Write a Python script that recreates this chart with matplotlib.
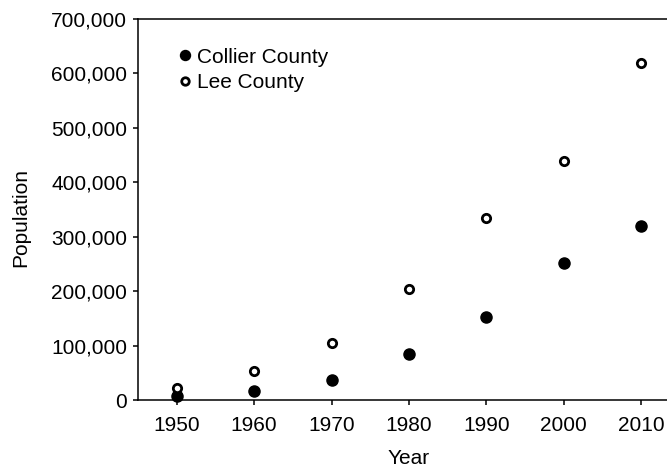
import matplotlib

matplotlib.use("Agg")
import matplotlib.pyplot as plt
from matplotlib.ticker import StrMethodFormatter

plt.rcParams["font.family"] = ["Liberation Sans", "DejaVu Sans"]

years = [1950, 1960, 1970, 1980, 1990, 2000, 2010]
collier = [6500, 15800, 37000, 85000, 152000, 251000, 320500]
lee = [23000, 54000, 105000, 204000, 334000, 440000, 618700]

FS = 15

fig = plt.figure(figsize=(6.67, 4.72), dpi=100)
# the axes run past the right edge of the figure, as in the original crop
ax = fig.add_axes([0.2069, 0.1525, 0.8126, 0.8072])

ax.plot(years, collier, ls="none", marker="o", ms=8, color="black",
        label="Collier County", clip_on=False, zorder=3)
ax.plot(years, lee, ls="none", marker="o", ms=6, mfc="white", mec="black",
        mew=2.0, label="Lee County", clip_on=False, zorder=3)

ax.set_xlim(1945, 2015)
ax.set_ylim(0, 700000)
ax.set_xticks(years)
ax.set_yticks(range(0, 700001, 100000))
ax.yaxis.set_major_formatter(StrMethodFormatter("{x:,.0f}"))

ax.spines["right"].set_visible(False)
for s in ("left", "bottom", "top"):
    ax.spines[s].set_linewidth(1.1)
ax.tick_params(axis="both", labelsize=FS, length=3.6, width=1.1, direction="out",
               top=False, right=False)
ax.tick_params(axis="x", pad=8)
ax.tick_params(axis="y", pad=4.3)

ax.set_ylabel("Population", fontsize=FS)
ax.yaxis.set_label_coords(-0.199, 0.48)
ax.set_xlabel("Year", fontsize=FS, va="top")
ax.xaxis.set_label_coords(0.5, -0.128)

ax.legend(loc="upper left", bbox_to_anchor=(0.0756, 0.925), frameon=False,
          fontsize=FS, handlelength=0.6, handletextpad=0.25, borderaxespad=0,
          borderpad=0, labelspacing=0.3, markerscale=0.9)

fig.savefig("out.png", dpi=100)
